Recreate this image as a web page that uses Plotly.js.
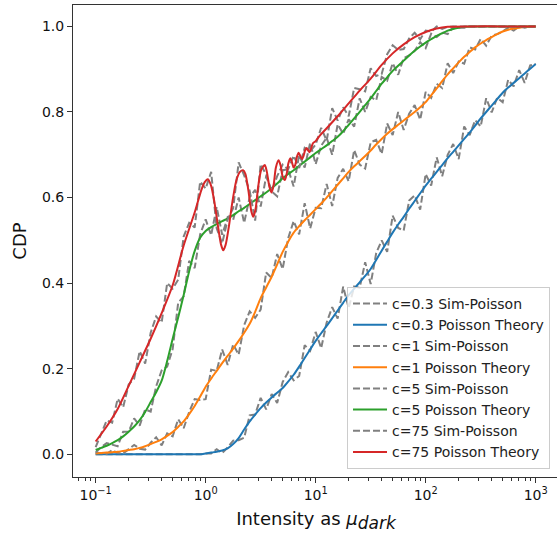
<!DOCTYPE html>
<html><head><meta charset="utf-8">
<script src="https://cdn.plot.ly/plotly-3.0.1.min.js"></script>
<style>html,body{margin:0;padding:0;overflow:hidden;background:#fff}#chart{width:560px;height:538px}</style>
</head><body><div id="chart"></div>
<script>
// shared intensity grid (mu_dark)
const muDark = [0.1,0.1122,0.1259,0.1413,0.1585,0.1778,0.1995,0.2239,0.2512,0.2818,
 0.3162,0.3548,0.3981,0.4467,0.5012,0.5623,0.631,0.7079,0.7943,0.8913,
 1,1.122,1.259,1.413,1.585,1.778,1.995,2.239,2.512,2.818,
 3.162,3.548,3.981,4.467,5.012,5.623,6.31,7.079,7.943,8.913,
 10,11.22,12.59,14.13,15.85,17.78,19.95,22.39,25.12,28.18,
 31.62,35.48,39.81,44.67,50.12,56.23,63.1,70.79,79.43,89.13,
 100,112.2,125.9,141.3,158.5,177.8,199.5,223.9,251.2,281.8,
 316.2,354.8,398.1,446.7,501.2,562.3,631,707.9,794.3,891.3,1000];

const theory03 = [0,0,0,0,0,0,0,0,0,0, 0,0,0,0,0,0,0,0,0,0,
 0.002,0.004,0.006,0.009,0.014,0.024,0.038,0.058,0.077,0.093,
 0.108,0.121,0.133,0.144,0.155,0.17,0.186,0.205,0.225,0.245,
 0.265,0.283,0.3,0.318,0.336,0.354,0.372,0.387,0.402,0.417,
 0.433,0.454,0.476,0.497,0.518,0.537,0.555,0.574,0.592,0.61,
 0.628,0.644,0.66,0.676,0.692,0.707,0.722,0.737,0.752,0.768,
 0.785,0.8,0.815,0.83,0.845,0.857,0.868,0.879,0.89,0.901,0.912];
const sim03 = [0,0,0,0,0,0,0,0,0,0, 0,0,0,0,0,0,0,0,0,0,
 0.002,0.002,0.012,0.003,0.016,0.032,0.033,0.039,0.091,0.093,
 0.132,0.105,0.141,0.12,0.169,0.192,0.173,0.183,0.255,0.242,
 0.286,0.248,0.308,0.344,0.317,0.392,0.342,0.392,0.389,0.449,
 0.398,0.47,0.5,0.473,0.558,0.529,0.523,0.593,0.605,0.572,
 0.655,0.628,0.694,0.65,0.7,0.725,0.69,0.766,0.746,0.781,
 0.766,0.832,0.799,0.833,0.823,0.875,0.86,0.898,0.868,0.909,0.912];

const theory1 = [0.002,0.003,0.004,0.005,0.006,0.008,0.01,0.012,0.015,0.019,
 0.024,0.029,0.035,0.043,0.052,0.064,0.077,0.094,0.113,0.135,
 0.158,0.177,0.195,0.213,0.23,0.247,0.265,0.284,0.305,0.333,
 0.365,0.39,0.415,0.444,0.473,0.497,0.518,0.533,0.547,0.56,
 0.573,0.586,0.6,0.615,0.63,0.645,0.66,0.673,0.685,0.697,
 0.71,0.724,0.737,0.749,0.76,0.77,0.78,0.79,0.8,0.811,
 0.823,0.839,0.855,0.872,0.888,0.902,0.916,0.929,0.94,0.951,
 0.96,0.968,0.975,0.982,0.988,0.992,0.995,0.997,0.999,1.0,1.0];
const sim1 = [0.004,0.003,0.001,0.01,0.003,0.002,0.013,0.022,0.013,0.011,
 0.027,0.04,0.021,0.049,0.042,0.082,0.061,0.099,0.129,0.127,
 0.129,0.198,0.195,0.245,0.209,0.257,0.233,0.302,0.334,0.319,
 0.338,0.425,0.412,0.468,0.433,0.505,0.545,0.514,0.587,0.528,
 0.576,0.575,0.632,0.58,0.646,0.667,0.638,0.711,0.677,0.668,
 0.729,0.735,0.702,0.773,0.746,0.8,0.758,0.796,0.816,0.782,
 0.847,0.833,0.866,0.856,0.914,0.891,0.918,0.913,0.951,0.946,
 0.971,0.955,0.978,0.982,0.988,0.997,0.99,1.0,0.997,1.0,1.0];

const theory5 = [0.01,0.015,0.02,0.026,0.033,0.042,0.053,0.065,0.08,0.099,
 0.122,0.145,0.172,0.218,0.27,0.32,0.372,0.428,0.475,0.506,
 0.522,0.531,0.538,0.545,0.551,0.559,0.568,0.576,0.585,0.594,
 0.603,0.612,0.622,0.633,0.645,0.655,0.664,0.674,0.684,0.694,
 0.704,0.713,0.722,0.732,0.742,0.755,0.77,0.785,0.8,0.816,
 0.832,0.849,0.866,0.881,0.896,0.908,0.92,0.932,0.943,0.953,
 0.962,0.97,0.978,0.984,0.99,0.994,0.997,0.999,1.0,1.0,
 1.0,1.0,1.0,1.0,1.0,1.0,1.0,1.0,1.0,1.0,1.0];
const sim5 = [0.004,0.017,0.026,0.023,0.019,0.053,0.053,0.084,0.067,0.105,
 0.1,0.159,0.196,0.205,0.246,0.354,0.369,0.452,0.435,0.514,
 0.549,0.512,0.578,0.513,0.554,0.548,0.6,0.541,0.601,0.618,
 0.579,0.65,0.614,0.603,0.664,0.666,0.626,0.7,0.67,0.728,
 0.678,0.721,0.74,0.7,0.771,0.749,0.783,0.766,0.832,0.8,
 0.835,0.827,0.882,0.873,0.914,0.887,0.926,0.932,0.943,0.963,
 0.949,0.983,0.975,0.986,0.982,0.999,0.997,0.997,1.0,0.999,
 1.0,1.0,1.0,1.0,1.0,1.0,1.0,1.0,1.0,1.0,1.0];

const sim75 = [0.017,0.05,0.079,0.074,0.13,0.11,0.163,0.177,0.241,0.212,
 0.284,0.322,0.308,0.4,0.387,0.408,0.509,0.541,0.53,0.637,
 0.621,0.66,0.528,0.493,0.549,0.575,0.682,0.652,0.616,0.546,
 0.678,0.653,0.615,0.65,0.677,0.666,0.698,0.669,0.716,0.708,
 0.724,0.763,0.733,0.809,0.78,0.811,0.79,0.856,0.853,0.848,
 0.902,0.884,0.889,0.935,0.956,0.945,0.947,0.972,0.985,0.97,
 0.99,0.988,1.0,0.994,0.999,1.0,1.0,1.0,1.0,1.0,
 1.0,1.0,1.0,1.0,1.0,1.0,1.0,1.0,1.0,1.0,1.0];

// c=75 theory has its own, finer intensity samples (oscillations)
const mu75 = [0.1,0.1259,0.1585,0.1995,0.2512,0.3162,0.3981,0.5012,0.631,0.7943,
 0.912,0.98,1.047,1.12,1.2,1.3,1.38,1.445,1.52,1.62,
 1.75,1.9,2.05,2.19,2.3,2.45,2.6,2.71,2.85,3.0,
 3.2,3.45,3.6,3.8,3.98,4.15,4.35,4.6,4.8,5.0,
 5.25,5.45,5.65,5.88,6.1,6.3,6.5,6.75,7.0,7.25,
 7.5,7.75,8.0,8.28,8.55,8.8,9.1,9.45,10,11,
 12.59,15.85,19.95,25.12,31.62,39.81,50.12,63.1,79.43,100,
 125.9,158.5,251.2,501.2,1000];
const theory75 = [0.03,0.065,0.106,0.16,0.215,0.27,0.33,0.395,0.488,0.565,
 0.617,0.636,0.643,0.628,0.59,0.53,0.49,0.477,0.49,0.53,
 0.59,0.64,0.66,0.664,0.655,0.615,0.568,0.555,0.575,0.625,
 0.665,0.676,0.66,0.625,0.612,0.63,0.67,0.687,0.675,0.65,
 0.641,0.655,0.68,0.692,0.682,0.67,0.675,0.695,0.705,0.697,
 0.69,0.697,0.71,0.716,0.71,0.706,0.715,0.727,0.732,0.746,
 0.762,0.79,0.82,0.85,0.878,0.91,0.937,0.958,0.975,0.987,
 0.995,0.999,1.0,1.0,1.0];

const cLabels = ['c=0.3','c=1','c=5','c=75'];
const colors = ['#1f77b4','#ff7f0e','#2ca02c','#d62728'];

const series = [
  {simX: muDark, sim: sim03, thX: muDark, th: theory03},
  {simX: muDark, sim: sim1, thX: muDark, th: theory1},
  {simX: muDark, sim: sim5, thX: muDark, th: theory5},
  {simX: muDark, sim: sim75, thX: mu75, th: theory75}
];

const traces = [];
series.forEach((s, i) => {
  traces.push({x: s.simX, y: s.sim, type: 'scatter', mode: 'lines',
    name: cLabels[i] + ' Sim-Poisson',
    line: {color: '#808080', width: 2, dash: '7px,3px'}});
  traces.push({x: s.thX, y: s.th, type: 'scatter', mode: 'lines',
    name: cLabels[i] + ' Poisson Theory',
    line: {color: colors[i], width: 2, shape: 'spline', smoothing: 0.7}});
});

const xTickVals = [0.1, 1, 10, 100, 1000];
const xTickText = ['10<sup>\u22121</sup>', '10<sup>0</sup>', '10<sup>1</sup>', '10<sup>2</sup>', '10<sup>3</sup>'];
const xMinorVals = [0.07,0.08,0.09,0.2,0.3,0.4,0.5,0.6,0.7,0.8,0.9,2,3,4,5,6,7,8,9,
  20,30,40,50,60,70,80,90,200,300,400,500,600,700,800,900];
const yTickVals = [0, 0.2, 0.4, 0.6, 0.8, 1.0];
const yTickText = ['0.0', '0.2', '0.4', '0.6', '0.8', '1.0'];

const layout = {
  width: 560, height: 538,
  margin: {l: 73, r: 1, t: 5, b: 61},
  paper_bgcolor: '#fff', plot_bgcolor: '#fff',
  font: {family: 'DejaVu Sans', size: 14, color: '#111'},
  showlegend: true,
  xaxis: {
    type: 'log', range: [-1.206, 3.212],
    tickmode: 'array', tickvals: xTickVals, ticktext: xTickText,
    ticks: 'outside', ticklen: 5, tickwidth: 1, tickcolor: '#333',
    minor: {tickmode: 'array', tickvals: xMinorVals, ticks: 'outside', ticklen: 3, tickwidth: 1, tickcolor: '#333'},
    showline: true, mirror: true, linecolor: '#333', linewidth: 1,
    showgrid: false, zeroline: false,
    tickfont: {family: 'DejaVu Sans', size: 14, color: '#111'},
    title: {text: 'Intensity as <i>\u03bc</i><sub><span style="font-size:17px"><i>dark</i></span></sub>', font: {family: 'DejaVu Sans', size: 18, color: '#111'}, standoff: 10}
  },
  yaxis: {
    range: [-0.053, 1.05],
    tickmode: 'array', tickvals: yTickVals, ticktext: yTickText,
    ticks: 'outside', ticklen: 5, tickwidth: 1, tickcolor: '#333',
    showline: true, mirror: true, linecolor: '#333', linewidth: 1,
    showgrid: false, zeroline: false,
    tickfont: {family: 'DejaVu Sans', size: 14, color: '#111'},
    title: {text: 'CDP', font: {family: 'DejaVu Sans', size: 18, color: '#111'}, standoff: 10}
  },
  legend: {
    x: 0.9815, xanchor: 'right', y: 0.017, yanchor: 'bottom',
    bgcolor: 'rgba(255,255,255,0.8)', bordercolor: '#cccccc', borderwidth: 1,
    font: {family: 'DejaVu Sans', size: 14, color: '#222'},
    itemwidth: 34, traceorder: 'normal'
  }
};

Plotly.newPlot('chart', traces, layout, {displayModeBar: false, staticPlot: true});
</script>
</body></html>
